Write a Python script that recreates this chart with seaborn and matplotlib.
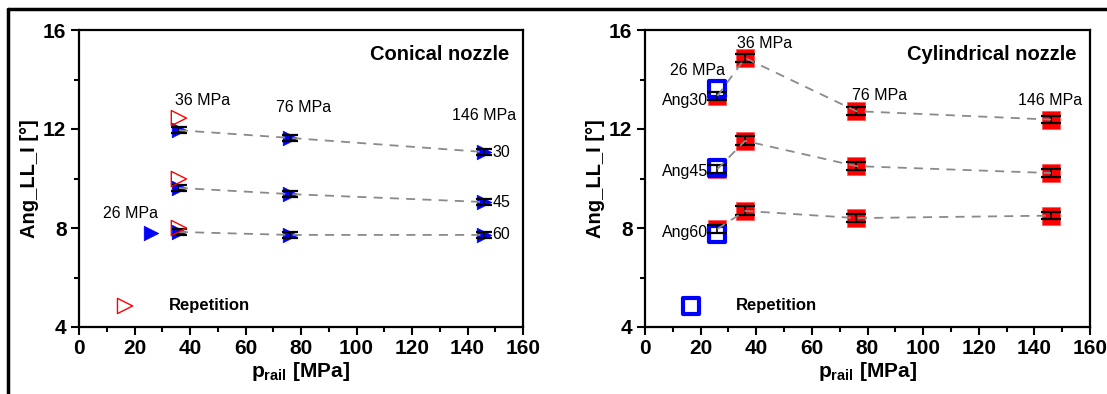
import numpy as np
import pandas as pd
import matplotlib
matplotlib.use("Agg")
import matplotlib.pyplot as plt
from matplotlib.lines import Line2D
from matplotlib.ticker import MultipleLocator
import seaborn as sns

# ---------------- data ----------------
con_x = [36, 76, 146]
con_30 = [11.95, 11.64, 11.07]
con_45 = [9.62, 9.37, 9.05]
con_60 = [7.84, 7.72, 7.72]
con_26_x = [26]
con_26_y = [7.8]
con_rep_x = [36, 36, 36]
con_rep_y = [12.44, 9.98, 8.0]
con_err = [0.12, 0.12, 0.12]

cyl_x = [26, 36, 76, 146]
cyl_30 = [13.33, 14.87, 12.72, 12.38]
cyl_45 = [10.38, 11.52, 10.50, 10.22]
cyl_60 = [7.96, 8.69, 8.40, 8.50]
cyl_err = [0.16, 0.18, 0.15, 0.15]
cyl_rep_x = [26, 26, 26]
cyl_rep_y = [13.60, 10.42, 7.76]

pressure_labels = ["26 MPa", "36 MPa", "76 MPa", "146 MPa"]
con_series_labels = ["30", "45", "60"]
cyl_series_labels = ["Ang30", "Ang45", "Ang60"]

sns.set_theme(style="ticks")
plt.rcParams['font.family'] = ['Liberation Sans', 'DejaVu Sans']
plt.rcParams['mathtext.fontset'] = 'custom'
plt.rcParams['mathtext.bf'] = 'Liberation Sans:bold'
plt.rcParams['mathtext.rm'] = 'Liberation Sans'
for k in ['text.color', 'axes.labelcolor', 'xtick.color', 'ytick.color', 'axes.edgecolor']:
    plt.rcParams[k] = 'black'

fig = plt.figure(figsize=(11.07, 3.94), dpi=100)
fig.patch.set_facecolor("white")
axL = fig.add_axes([79/1107, 1-327/394, (523-79)/1107, (327-30)/394])
axR = fig.add_axes([645/1107, 1-327/394, (1090-645)/1107, (327-30)/394])

GRAY = "#8a8a8a"

def style_axes(ax):
    ax.set_xlim(0, 160)
    ax.set_ylim(4, 16)
    ax.xaxis.set_major_locator(MultipleLocator(20))
    ax.xaxis.set_minor_locator(MultipleLocator(10))
    ax.yaxis.set_major_locator(MultipleLocator(4))
    ax.yaxis.set_minor_locator(MultipleLocator(2))
    ax.tick_params(which="major", direction="out", length=6, width=1.5,
                   labelsize=15, top=False, right=False, pad=3,
                   colors="black")
    ax.tick_params(which="minor", direction="out", length=3.5, width=1.5,
                   top=False, right=False, colors="black")
    for lab in ax.get_xticklabels() + ax.get_yticklabels():
        lab.set_fontweight("bold")
    for s in ax.spines.values():
        s.set_visible(True)
        s.set_linewidth(1.6)
        s.set_color("black")
    ax.set_xlabel(r"p$_{\mathbf{rail}}$ [MPa]", fontsize=15, fontweight="bold",
                  labelpad=1, color="black")
    ax.set_ylabel("Ang_LL_I [°]", fontsize=14.5, fontweight="bold",
                  labelpad=3, color="black")
    ax.set_facecolor("white")

# ---------------- left: conical ----------------
for ys in [con_30, con_45, con_60]:
    df = pd.DataFrame({"x": con_x, "y": ys})
    sns.scatterplot(data=df, x="x", y="y", ax=axL, marker=">", s=110,
                    color="blue", edgecolor="blue", linewidth=0.5, zorder=3)
    axL.errorbar(con_x, ys, yerr=con_err, fmt="none", ecolor="black",
                 elinewidth=1.2, capsize=6, capthick=1.6, zorder=4)
    sns.lineplot(data=df, x="x", y="y", ax=axL, color=GRAY, lw=1.3,
                 linestyle=(0, (5, 4)), zorder=5)
sns.scatterplot(x=con_26_x, y=con_26_y, ax=axL, marker=">", s=110,
                color="blue", edgecolor="blue", linewidth=0.5, zorder=3)
axL.scatter(con_rep_x, con_rep_y, marker=">", s=120, facecolors="none",
            edgecolors="red", linewidths=1.0, zorder=6)
axL.scatter([16.6], [4.85], marker=">", s=120, facecolors="none",
            edgecolors="red", linewidths=1.0, zorder=6)
axL.text(32.5, 4.85, "Repetition", fontsize=12, fontweight="bold", va="center", ha="left")
axL.text(155, 15.0, "Conical nozzle", fontsize=14.5, fontweight="bold", ha="right", va="center")

axL.text(34.5, 13.15, pressure_labels[1], fontsize=11.5, ha="left", va="center")
axL.text(81, 12.88, pressure_labels[2], fontsize=11.5, ha="center", va="center")
axL.text(146, 12.56, pressure_labels[3], fontsize=11.5, ha="center", va="center")
axL.text(18.5, 8.6, pressure_labels[0], fontsize=11.5, ha="center", va="center")
for ys, lab in zip([con_30, con_45, con_60], con_series_labels):
    axL.text(149, ys[-1], lab, fontsize=11.5, ha="left", va="center")
style_axes(axL)

# ---------------- right: cylindrical ----------------
for ys in [cyl_30, cyl_45, cyl_60]:
    df = pd.DataFrame({"x": cyl_x, "y": ys})
    sns.scatterplot(data=df, x="x", y="y", ax=axR, marker="s", s=150,
                    color="red", edgecolor="#ff5050", linewidth=0.5, zorder=3)
axR.scatter(cyl_rep_x, cyl_rep_y, marker="s", s=120, facecolors="white",
            edgecolors="blue", linewidths=3.0, zorder=3.5)
for ys in [cyl_30, cyl_45, cyl_60]:
    df = pd.DataFrame({"x": cyl_x, "y": ys})
    axR.errorbar(cyl_x, ys, yerr=cyl_err, fmt="none", ecolor="black",
                 elinewidth=1.2, capsize=7, capthick=1.6, zorder=4)
    sns.lineplot(data=df, x="x", y="y", ax=axR, color=GRAY, lw=1.3,
                 linestyle=(0, (5, 4)), zorder=5)
axR.scatter([16.5], [4.85], marker="s", s=120, facecolors="white",
            edgecolors="blue", linewidths=3.0, zorder=6)
axR.text(32.5, 4.85, "Repetition", fontsize=12, fontweight="bold", va="center", ha="left")
axR.text(155, 15.0, "Cylindrical nozzle", fontsize=14.5, fontweight="bold", ha="right", va="center")

axR.text(18.7, 14.38, pressure_labels[0], fontsize=11.5, ha="center", va="center")
axR.text(43, 15.45, pressure_labels[1], fontsize=11.5, ha="center", va="center")
axR.text(84.5, 13.37, pressure_labels[2], fontsize=11.5, ha="center", va="center")
axR.text(145.5, 13.15, pressure_labels[3], fontsize=11.5, ha="center", va="center")
for yv, lab in zip([13.15, 10.3, 7.8], cyl_series_labels):
    axR.text(22.6, yv, lab, fontsize=11.5, ha="right", va="center")
style_axes(axR)

for ax in (axL, axR):
    leg = ax.get_legend()
    if leg is not None:
        leg.remove()

# figure frame lines (top and left)
fig.add_artist(Line2D([8/1107, 1.0], [1-8.5/394, 1-8.5/394], color="black", lw=2.5,
                      transform=fig.transFigure))
fig.add_artist(Line2D([8/1107, 8/1107], [0, 1-8.5/394], color="black", lw=2.5,
                      transform=fig.transFigure))

fig.savefig("out.png", dpi=100, facecolor="white")
